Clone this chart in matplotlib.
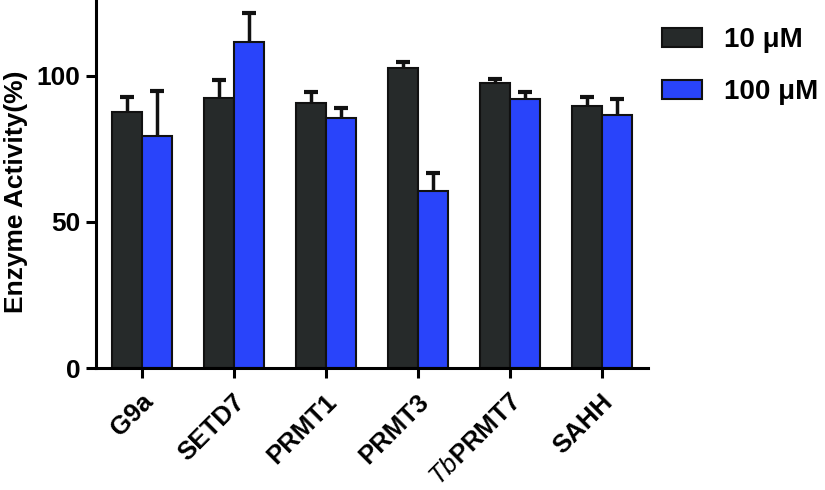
import numpy as np
import matplotlib
matplotlib.use('Agg')
import matplotlib.pyplot as plt
import matplotlib.transforms as mtransforms

plt.rcParams['font.family'] = ['Liberation Sans', 'DejaVu Sans']
plt.rcParams['font.weight'] = 'bold'
plt.rcParams['axes.labelweight'] = 'bold'
plt.rcParams['mathtext.fontset'] = 'custom'
plt.rcParams['mathtext.it'] = 'Liberation Sans:italic:weight=normal'
plt.rcParams['mathtext.rm'] = 'Liberation Sans:bold'

# data
enzymes = ['G9a', 'SETD7', 'PRMT1', 'PRMT3', r'$\it{Tb}$PRMT7', 'SAHH']
act_10 = [87.6, 92.6, 90.6, 102.8, 97.5, 89.7]
err_10 = [5.1, 6.0, 3.8, 2.0, 1.4, 3.2]
act_100 = [79.5, 111.5, 85.6, 60.6, 92.2, 86.7]
err_100 = [15.5, 10.0, 3.3, 6.3, 2.3, 5.4]
labels = ['10 μM', '100 μM']
colors = ['#262a2a', '#2944fa']

fig = plt.figure(figsize=(8.25, 4.9), dpi=100)
ax = fig.add_axes([96/825, 1 - 368/490, (648-96)/825, 368/490])

x = np.arange(len(enzymes))
w = 0.32
off = 0.165
for vals, errs, col, lab, dx in [(act_10, err_10, colors[0], labels[0], -off),
                                 (act_100, err_100, colors[1], labels[1], off)]:
    ax.bar(x + dx, vals, w, color=col, edgecolor='#111111', linewidth=1.5,
           label=lab, zorder=2)
    _, caps, _ = ax.errorbar(x + dx, vals, yerr=[np.zeros(len(vals)), errs],
                             fmt='none', ecolor='#111111', elinewidth=2.5,
                             capsize=5, capthick=3, zorder=1)
    caps[0].set_visible(False)

ax.set_xlim(-0.5, 5.5)
ax.set_ylim(0, 126)
ax.set_yticks([0, 50, 100])
ax.set_xticks(x)
ax.set_xticklabels([])
# rotated category labels, anchored just under each tick
lab_tr = ax.get_xaxis_transform() + mtransforms.ScaledTranslation(
    -1/72, -15.5/72, fig.dpi_scale_trans)
for xi, name in zip(x, enzymes):
    ax.text(xi, 0, name, transform=lab_tr, rotation=45, ha='right', va='top',
            rotation_mode='anchor', fontsize=18.5, fontweight='bold')

ax.tick_params(axis='y', labelsize=19, width=2.2, length=7, pad=4)
ax.tick_params(axis='x', width=2.2, length=7)
ax.spines['top'].set_visible(False)
ax.spines['right'].set_visible(False)
ax.spines['left'].set_linewidth(2.2)
ax.spines['bottom'].set_linewidth(2.2)
ax.set_ylabel('Enzyme Activity(%)', fontsize=19)
ax.yaxis.set_label_coords(-0.124, 0.48)

fig.legend(loc='upper left', bbox_to_anchor=(662/825, 1 - 27/490),
           frameon=False, fontsize=20, handlelength=1.45, handleheight=0.7,
           handletextpad=0.8, labelspacing=0.95, borderpad=0, borderaxespad=0)

fig.savefig('out.png', dpi=100)
